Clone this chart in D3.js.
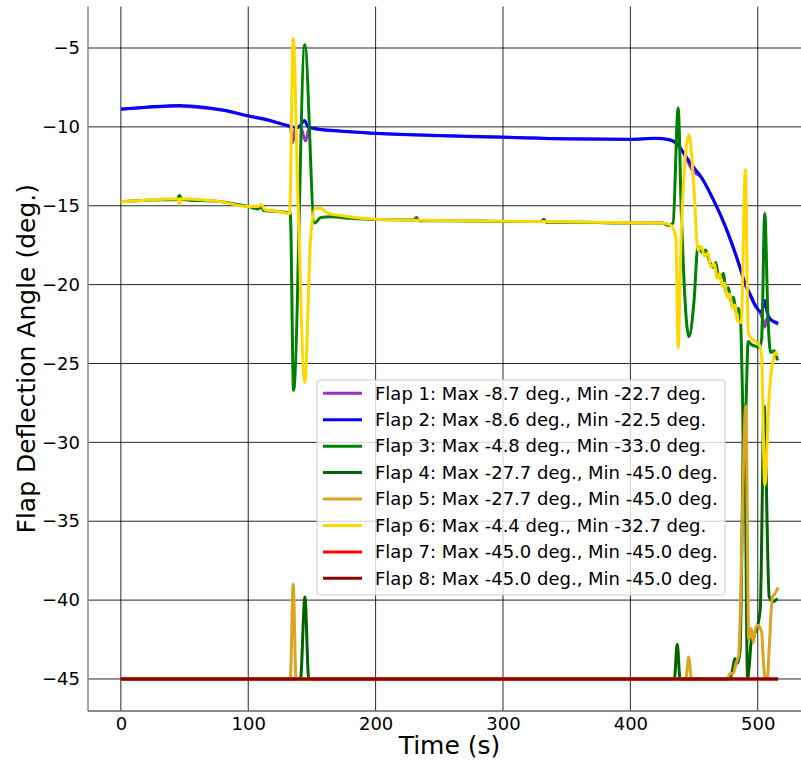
<!DOCTYPE html>
<html>
<head>
<meta charset="utf-8">
<script src="https://cdn.jsdelivr.net/npm/d3@7"></script>
<style>
  body { margin: 0; background: #fff; }
  text { font-family: "DejaVu Sans", sans-serif; fill: #000; }
</style>
</head>
<body>
<svg id="chart"></svg>
<script>
// series: [time (s), angle (deg.)]
const flap1 = [[0,-8.9],[20,-8.78],[46,-8.7],[65,-8.8],[80,-8.95],[100,-9.32],[115,-9.57],[130,-9.92],[133,-10.0],[135,-11.0],[137,-10.05],[141,-10.0],[145,-10.9],[148,-10.05],[152,-10.12],[170,-10.27],[200,-10.42],[250,-10.57],[300,-10.67],[350,-10.77],[400,-10.8],[420,-10.74],[430,-10.82],[437,-11.12],[443,-11.85],[449,-12.8],[455,-13.15],[465,-14.6],[475,-16.4],[486,-18.9],[490,-20.0],[494,-20.7],[498,-21.35],[502,-21.8],[504,-22.2],[505.5,-22.7],[507.5,-22.1],[510,-22.25],[516,-22.5]];
const flap2 = [[0,-8.87],[20,-8.75],[46,-8.64],[65,-8.75],[80,-8.93],[100,-9.3],[115,-9.55],[130,-9.9],[135,-10.0],[138,-10.05],[141,-9.9],[144,-9.6],[147,-10.0],[152,-10.1],[170,-10.25],[200,-10.4],[250,-10.55],[300,-10.65],[350,-10.75],[400,-10.78],[420,-10.72],[430,-10.8],[437,-11.1],[443,-11.8],[448,-12.4],[455,-13.1],[465,-14.6],[475,-16.4],[486,-18.9],[490,-19.9],[494,-20.6],[498,-21.3],[502,-21.7],[504,-21.5],[505.5,-21.0],[507.5,-21.8],[510,-22.2],[516,-22.45]];
const flap3 = [[0,-14.74],[20,-14.65],[44,-14.6],[46,-14.35],[48,-14.6],[78,-14.74],[100,-15.05],[108,-15.2],[110,-15.05],[112,-15.3],[125,-15.38],[133,-15.45],[135.6,-26.7],[144.4,-4.8],[152,-16.1],[157,-15.75],[165,-15.7],[180,-15.8],[200,-15.88],[230,-15.9],[232,-15.75],[234,-15.95],[260,-15.95],[300,-16.0],[330,-16.0],[332,-15.85],[334,-16.05],[360,-16.05],[400,-16.1],[425,-16.1],[430,-16.25],[433.5,-16.1],[437.5,-8.8],[440,-15.5],[446,-23.3],[450,-21.0],[453,-17.6],[457,-18.0],[459,-17.8],[462,-18.5],[465,-18.9],[467,-18.6],[469,-19.4],[471,-19.6],[473,-19.3],[475,-20.4],[477,-20.2],[479,-21.1],[481,-20.8],[483,-21.8],[485,-21.5],[486.5,-22.3],[488,-27.0],[489.3,-33.0],[491,-27.0],[492.5,-23.6],[495,-23.8],[498,-23.9],[501,-24.0],[503,-23.5],[505.5,-15.5],[508,-22.0],[510,-24.3],[513,-24.2],[515.5,-24.8]];
const flap4 = [[0,-45],[141,-45],[144.5,-39.8],[147.5,-45],[434.5,-45],[436.8,-42.8],[439,-45],[478,-45],[480,-44.5],[482,-43.7],[484,-44.0],[486,-43.3],[489.5,-27.7],[492,-45],[493.5,-44.0],[495,-42.5],[497,-42.2],[500,-41.6],[502,-40.5],[505,-27.7],[509,-39.8],[512,-40.1],[515.5,-39.9]];
const flap5 = [[0,-45],[133,-45],[135.3,-39.0],[137.5,-45],[443.5,-45],[445.8,-43.6],[448,-45],[476,-45],[478,-44.7],[481,-44.6],[483,-44.0],[485,-43.5],[490.6,-27.7],[493,-42.5],[495,-41.8],[496.5,-42.7],[498,-41.9],[500,-41.6],[503,-42.0],[504.5,-44.0],[506,-45],[507.5,-45],[509,-43.0],[511.5,-39.8],[513.5,-39.6],[516,-39.2]];
const flap6 = [[0,-14.74],[20,-14.65],[45,-14.55],[46,-14.9],[47,-14.55],[78,-14.74],[100,-15.05],[108,-15.05],[110,-14.9],[113,-15.25],[125,-15.38],[132.5,-15.5],[135.3,-4.4],[139,-14.5],[144.4,-26.2],[149,-17.0],[152.5,-15.2],[156,-15.15],[162,-15.45],[175,-15.65],[200,-15.85],[250,-15.93],[300,-15.98],[350,-16.02],[400,-16.08],[425,-16.1],[432,-16.25],[435.7,-17.0],[437.5,-24.0],[440,-16.5],[446,-10.5],[450,-14.0],[453,-17.8],[456,-17.6],[458,-18.2],[461,-18.0],[463,-18.9],[466,-18.7],[468,-19.6],[470,-19.3],[472,-20.1],[474,-19.9],[476,-20.8],[478,-20.6],[480,-21.5],[482,-21.3],[484,-22.3],[487,-22.4],[490.3,-12.7],[492.5,-23.0],[494,-23.3],[498,-23.6],[501,-23.8],[503,-24.5],[505.5,-32.7],[509,-27.0],[512,-24.8],[514,-24.3],[516,-24.5]];
const flap7 = [[0,-45],[516,-45]];
const flap8 = [[0,-45],[516,-45]];

const seriesData = [flap1, flap2, flap3, flap4, flap5, flap6, flap7, flap8];
const seriesColors = ["#9932cc", "#0000ff", "#008000", "#006400", "#daa520", "#ffd700", "#ff0000", "#8b0000"];
const legendLabels = [
  "Flap 1: Max -8.7 deg., Min -22.7 deg.",
  "Flap 2: Max -8.6 deg., Min -22.5 deg.",
  "Flap 3: Max -4.8 deg., Min -33.0 deg.",
  "Flap 4: Max -27.7 deg., Min -45.0 deg.",
  "Flap 5: Max -27.7 deg., Min -45.0 deg.",
  "Flap 6: Max -4.4 deg., Min -32.7 deg.",
  "Flap 7: Max -45.0 deg., Min -45.0 deg.",
  "Flap 8: Max -45.0 deg., Min -45.0 deg."
];
const xTicks = [0, 100, 200, 300, 400, 500];
const yTicks = [-45, -40, -35, -30, -25, -20, -15, -10, -5];

let width = 801;
let height = 761;
let plotLeft = 88, plotRight = 811, plotTop = 6.5, plotBottom = 711;

let svg = d3.select("#chart").attr("width", width).attr("height", height);

let scaleX = d3.scaleLinear().domain([-25.8, 541.8]).range([plotLeft, plotRight]);
let scaleY = d3.scaleLinear().domain([-47.03, -2.37]).range([plotBottom, plotTop]);

// grid
svg.append("g")
  .selectAll("line")
  .data(xTicks)
  .enter()
  .append("line")
  .attr("x1", d => scaleX(d)).attr("x2", d => scaleX(d))
  .attr("y1", plotTop).attr("y2", plotBottom)
  .attr("stroke", "#000").attr("stroke-width", 1).attr("stroke-opacity", 0.85);
svg.append("g")
  .selectAll("line")
  .data(yTicks)
  .enter()
  .append("line")
  .attr("x1", plotLeft).attr("x2", plotRight)
  .attr("y1", d => scaleY(d)).attr("y2", d => scaleY(d))
  .attr("stroke", "#000").attr("stroke-width", 1).attr("stroke-opacity", 0.85);

// axes (labels only)
let axisX = d3.axisBottom(scaleX).tickValues(xTicks).tickSize(0).tickPadding(6);
let axisY = d3.axisLeft(scaleY).tickValues(yTicks).tickSize(0).tickPadding(8);
svg.append("g")
  .attr("transform", `translate(0, ${plotBottom})`)
  .call(axisX)
  .call(g => g.select(".domain").remove())
  .selectAll("text").attr("font-size", 18).attr("font-family", "DejaVu Sans");
svg.append("g")
  .attr("transform", `translate(${plotLeft}, 0)`)
  .call(axisY)
  .call(g => g.select(".domain").remove())
  .selectAll("text").attr("font-size", 18).attr("font-family", "DejaVu Sans");

// spines
svg.append("line").attr("x1", plotLeft).attr("x2", plotLeft).attr("y1", plotTop).attr("y2", plotBottom)
  .attr("stroke", "#888").attr("stroke-width", 1.5);
svg.append("line").attr("x1", plotLeft).attr("x2", plotRight).attr("y1", plotBottom).attr("y2", plotBottom)
  .attr("stroke", "#666").attr("stroke-width", 1.5);

// lines
let line = d3.line()
  .x(d => scaleX(d[0]))
  .y(d => scaleY(d[1]))
  .curve(d3.curveMonotoneX);
svg.append("g")
  .selectAll("path")
  .data(seriesData)
  .enter()
  .append("path")
  .attr("d", d => line(d))
  .attr("fill", "none")
  .attr("stroke", (d, i) => seriesColors[i])
  .attr("stroke-width", 3)
  .attr("stroke-linejoin", "round");

// axis titles
svg.append("text")
  .attr("x", (plotLeft + plotRight) / 2)
  .attr("y", 754)
  .attr("text-anchor", "middle")
  .attr("font-size", 25)
  .text("Time (s)");
svg.append("text")
  .attr("transform", `translate(35, ${(plotTop + plotBottom) / 2}) rotate(-90)`)
  .attr("text-anchor", "middle")
  .attr("font-size", 25)
  .text("Flap Deflection Angle (deg.)");

// legend
let legend = svg.append("g").attr("transform", "translate(317, 380)");
legend.append("rect")
  .attr("width", 408).attr("height", 215)
  .attr("rx", 3)
  .attr("fill", "#fff").attr("fill-opacity", 0.8)
  .attr("stroke", "#ccc");
let rows = legend.selectAll("g.row")
  .data(legendLabels)
  .enter()
  .append("g")
  .attr("class", "row")
  .attr("transform", (d, i) => `translate(0, ${13.3 + i * 26.43})`);
rows.append("line")
  .attr("x1", 6).attr("x2", 45)
  .attr("stroke", (d, i) => seriesColors[i])
  .attr("stroke-width", 3);
rows.append("text")
  .attr("x", 58)
  .attr("dy", "0.35em")
  .attr("font-size", 18)
  .text(d => d);
</script>
</body>
</html>
